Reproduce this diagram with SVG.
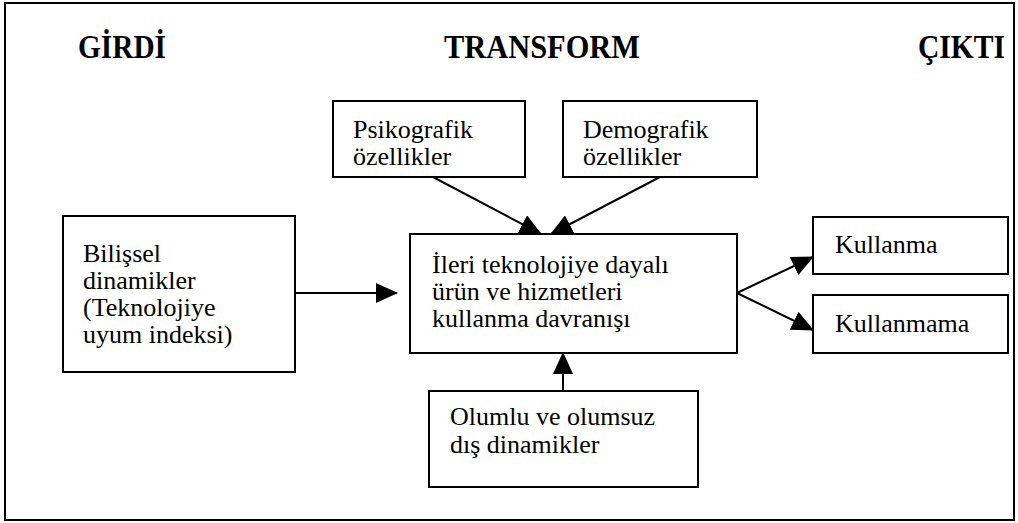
<svg xmlns="http://www.w3.org/2000/svg" width="1018" height="523" viewBox="0 0 1018 523">
<style>
.box{fill:#fff;stroke:#000;stroke-width:2}
.t{font-family:"Liberation Serif","Times New Roman",serif;font-size:26px;fill:#000}
.h{font-family:"Liberation Serif","Times New Roman",serif;font-size:33px;font-weight:bold;fill:#000}
.c{stroke:#000;stroke-width:2;fill:none;marker-end:url(#ah)}
</style>
<defs>
<marker id="ah" markerUnits="userSpaceOnUse" markerWidth="22" markerHeight="20" refX="21" refY="10" orient="auto" viewBox="0 0 22 20">
<path d="M0,0 L22,10 L0,20 z" fill="#000"/>
</marker>
</defs>
<rect x="0" y="0" width="1018" height="523" fill="#fff"/>
<rect id="frame" x="5" y="3" width="1009" height="517" fill="none" stroke="#000" stroke-width="2"/>
<g id="titles">
<text class="h" x="78" y="58" textLength="88" lengthAdjust="spacingAndGlyphs">GİRDİ</text>
<text class="h" x="444" y="58" textLength="196" lengthAdjust="spacingAndGlyphs">TRANSFORM</text>
<text class="h" x="918" y="58" textLength="87" lengthAdjust="spacingAndGlyphs">ÇIKTI</text>
</g>
<g id="connectors">
<line class="c" x1="295" y1="293" x2="397" y2="293"/>
<line class="c" x1="433" y1="177" x2="541" y2="234"/>
<line class="c" x1="660" y1="177" x2="551" y2="234"/>
<line class="c" x1="737" y1="293" x2="813" y2="257"/>
<line class="c" x1="737" y1="293" x2="813" y2="330"/>
<line class="c" x1="563" y1="391" x2="563" y2="353"/>
</g>
<g id="bilissel">
<rect class="box" x="63" y="216" width="232" height="156"/>
<text class="t" x="83" y="262">Bilişsel</text>
<text class="t" x="83" y="289">dinamikler</text>
<text class="t" x="83" y="316">(Teknolojiye</text>
<text class="t" x="83" y="343">uyum indeksi)</text>
</g>
<g id="psikografik">
<rect class="box" x="333" y="101" width="192" height="76"/>
<text class="t" x="353" y="138">Psikografik</text>
<text class="t" x="353" y="165">özellikler</text>
</g>
<g id="demografik">
<rect class="box" x="563" y="101" width="194" height="76"/>
<text class="t" x="583" y="138">Demografik</text>
<text class="t" x="583" y="165">özellikler</text>
</g>
<g id="merkez">
<rect class="box" x="410" y="234" width="327" height="119"/>
<text class="t" x="432" y="273">İleri teknolojiye dayalı</text>
<text class="t" x="432" y="300">ürün ve hizmetleri</text>
<text class="t" x="432" y="327">kullanma davranışı</text>
</g>
<g id="kullanma">
<rect class="box" x="813" y="217" width="195" height="57"/>
<text class="t" x="835" y="253">Kullanma</text>
</g>
<g id="kullanmama">
<rect class="box" x="813" y="295" width="195" height="58"/>
<text class="t" x="835" y="332">Kullanmama</text>
</g>
<g id="olumlu">
<rect class="box" x="429" y="391" width="269" height="96"/>
<text class="t" x="450" y="425">Olumlu ve olumsuz</text>
<text class="t" x="450" y="453">dış dinamikler</text>
</g>
</svg>
